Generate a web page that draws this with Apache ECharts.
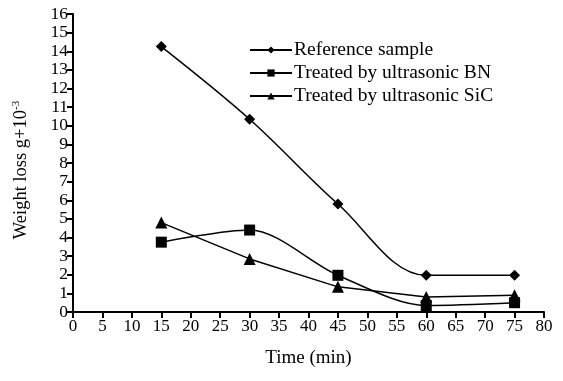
<!DOCTYPE html>
<html><head><meta charset="utf-8">
<script src="https://cdn.jsdelivr.net/npm/echarts@6/dist/echarts.min.js"></script>
<style>html,body{margin:0;padding:0;background:#fff}#c{width:563px;height:381px}</style>
</head><body><div id="c"></div>
<script>
const times = [15, 30, 45, 60, 75];
const referenceSample = [14.25, 10.35, 5.8, 1.97, 1.97];
const treatedBN = [3.75, 4.4, 1.97, 0.35, 0.5];
const treatedSiC = [4.8, 2.85, 1.35, 0.8, 0.9];
const seriesNames = ['Reference sample', 'Treated by ultrasonic BN', 'Treated by ultrasonic SiC'];

const font = 'Liberation Serif, Times New Roman, serif';
const pair = arr => times.map((t, i) => [t, arr[i]]);
const chart = echarts.init(document.getElementById('c'));
chart.setOption({
  animation: false,
  backgroundColor: '#fff',
  grid: {left: 73, right: 19, top: 14, bottom: 69},
  legend: {
    orient: 'vertical', left: 244, top: 35, itemGap: 3, itemWidth: 42, itemHeight: 9,
    textStyle: {fontFamily: font, fontSize: 19.5, color: '#000', padding: [0,0,0,-3]},
    data: seriesNames
  },
  xAxis: {
    type: 'value', min: 0, max: 80, interval: 5,
    name: 'Time (min)', nameLocation: 'middle', nameGap: 37,
    nameTextStyle: {fontFamily: font, fontSize: 19, color: '#000'},
    axisLine: {lineStyle: {color: '#000', width: 2}},
    axisTick: {lineStyle: {color: '#000', width: 2}, length: 6},
    axisLabel: {fontFamily: font, fontSize: 17, color: '#000', margin: 6},
    splitLine: {show: false}
  },
  yAxis: {
    type: 'value', min: 0, max: 16, interval: 1,
    name: '{a|Weight loss g+10}{s|-3}', nameLocation: 'middle', nameGap: 42,
    nameTextStyle: {padding: [0, 14, 0, 0], rich: {a: {fontFamily: font, fontSize: 18.5, color: '#000'}, s: {fontFamily: font, fontSize: 11, color: '#000', verticalAlign: 'top', padding: [0,0,9,0]}}},
    axisLine: {show: true, lineStyle: {color: '#000', width: 2}},
    axisTick: {show: true, lineStyle: {color: '#000', width: 2}, length: 6},
    axisLabel: {fontFamily: font, fontSize: 17.5, color: '#000', margin: 5},
    splitLine: {show: false}
  },
  series: [
    {name: seriesNames[0], type: 'line', data: pair(referenceSample), smooth: 0.35,
     symbol: 'diamond', symbolSize: 11, itemStyle: {color: '#000'}, lineStyle: {color: '#000', width: 1.5}},
    {name: seriesNames[1], type: 'line', data: pair(treatedBN), smooth: 0.3,
     symbol: 'rect', symbolSize: 11, itemStyle: {color: '#000'}, lineStyle: {color: '#000', width: 1.5}},
    {name: seriesNames[2], type: 'line', data: pair(treatedSiC), smooth: false,
     symbol: 'triangle', symbolSize: 12, itemStyle: {color: '#000'}, lineStyle: {color: '#000', width: 1.5}}
  ]
});
</script></body></html>
